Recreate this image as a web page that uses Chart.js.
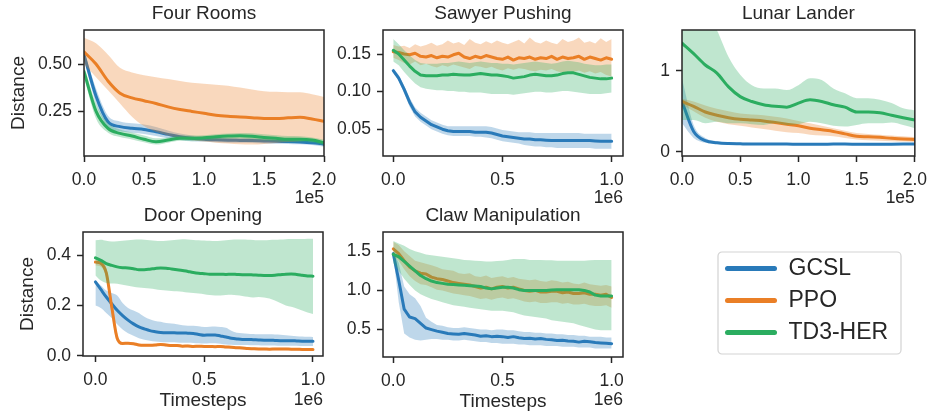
<!DOCTYPE html>
<html><head><meta charset="utf-8">
<script src="https://cdn.jsdelivr.net/npm/chart.js@4.4.0/dist/chart.umd.min.js"></script>
<style>
html,body{margin:0;padding:0;background:#fff;}
#wrap{position:relative;width:935px;height:411px;overflow:hidden;background:#fff;}
canvas{position:absolute;}
</style></head><body><div id="wrap">
<canvas id="c1" width="935" height="411" style="left:0;top:0"></canvas>
<canvas id="c2" width="935" height="411" style="left:0;top:0"></canvas>
<canvas id="c3" width="935" height="411" style="left:0;top:0"></canvas>
<canvas id="c4" width="935" height="411" style="left:0;top:0"></canvas>
<canvas id="c5" width="935" height="411" style="left:0;top:0"></canvas>
<canvas id="leg" width="190" height="150" style="left:716px;top:248px"></canvas>
</div>
<script>
// ---------------- data ----------------
const SERIES = ['GCSL', 'PPO', 'TD3-HER'];

// x grids (in units of the offset: 1e5 or 1e6)
const X21 = [0,0.1,0.2,0.3,0.4,0.5,0.6,0.7,0.8,0.9,1.0,1.1,1.2,1.3,1.4,1.5,1.6,1.7,1.8,1.9,2.0];
const X41 = [0,0.025,0.05,0.075,0.1,0.125,0.15,0.175,0.2,0.225,0.25,0.275,0.3,0.325,0.35,0.375,0.4,0.425,0.45,0.475,0.5,0.525,0.55,0.575,0.6,0.625,0.65,0.675,0.7,0.725,0.75,0.775,0.8,0.825,0.85,0.875,0.9,0.925,0.95,0.975,1.0];

// Four Rooms
const FR_GCSL    = [0.55,0.33,0.193,0.167,0.158,0.152,0.14,0.126,0.113,0.105,0.1,0.097,0.095,0.094,0.093,0.091,0.089,0.088,0.086,0.082,0.074];
const FR_GCSL_HI = [0.57,0.37,0.225,0.195,0.185,0.178,0.165,0.147,0.13,0.12,0.113,0.11,0.108,0.107,0.106,0.104,0.102,0.101,0.099,0.096,0.089];
const FR_GCSL_LO = [0.53,0.29,0.165,0.142,0.135,0.128,0.117,0.105,0.096,0.09,0.087,0.084,0.082,0.081,0.08,0.078,0.076,0.075,0.073,0.069,0.06];
const FR_PPO     = [0.565,0.50,0.41,0.345,0.32,0.305,0.29,0.272,0.258,0.248,0.238,0.228,0.222,0.218,0.215,0.211,0.21,0.214,0.217,0.208,0.195];
const FR_PPO_HI  = [0.64,0.61,0.55,0.48,0.455,0.44,0.43,0.42,0.41,0.40,0.395,0.39,0.385,0.375,0.365,0.355,0.352,0.35,0.35,0.34,0.325];
const FR_PPO_LO  = [0.50,0.43,0.36,0.29,0.22,0.17,0.14,0.12,0.105,0.095,0.088,0.082,0.077,0.073,0.072,0.075,0.08,0.085,0.09,0.093,0.095];
const FR_TD3     = [0.46,0.25,0.158,0.131,0.117,0.1,0.087,0.096,0.106,0.105,0.108,0.113,0.117,0.119,0.116,0.11,0.105,0.1,0.1,0.096,0.082];
const FR_TD3_HI  = [0.49,0.29,0.185,0.152,0.136,0.12,0.105,0.11,0.12,0.12,0.122,0.126,0.13,0.133,0.132,0.127,0.122,0.117,0.116,0.11,0.098];
const FR_TD3_LO  = [0.43,0.21,0.135,0.112,0.099,0.084,0.072,0.082,0.092,0.09,0.093,0.098,0.102,0.104,0.1,0.094,0.088,0.084,0.084,0.082,0.066];

// Sawyer Pushing
const SP_GCSL    = [0.128,0.118,0.103,0.086,0.073,0.066,0.061,0.056,0.053,0.050,0.048,0.047,0.047,0.047,0.047,0.046,0.046,0.046,0.045,0.043,0.041,0.040,0.039,0.038,0.037,0.037,0.036,0.036,0.0355,0.035,0.035,0.035,0.035,0.035,0.035,0.035,0.035,0.0345,0.034,0.034,0.034];
const SP_GCSL_HI = [0.131,0.122,0.108,0.092,0.079,0.072,0.067,0.062,0.059,0.056,0.054,0.054,0.054,0.054,0.054,0.054,0.054,0.054,0.053,0.051,0.049,0.048,0.047,0.046,0.046,0.046,0.045,0.045,0.045,0.045,0.045,0.045,0.045,0.045,0.045,0.044,0.044,0.044,0.044,0.044,0.044];
const SP_GCSL_LO = [0.125,0.114,0.098,0.080,0.067,0.060,0.055,0.050,0.047,0.044,0.042,0.041,0.041,0.041,0.041,0.040,0.040,0.039,0.038,0.036,0.034,0.033,0.032,0.031,0.029,0.028,0.027,0.027,0.026,0.026,0.025,0.025,0.025,0.025,0.025,0.025,0.025,0.024,0.024,0.024,0.024];
const SP_PPO     = [0.153,0.152,0.150,0.149,0.151,0.147,0.146,0.148,0.145,0.147,0.146,0.149,0.151,0.146,0.144,0.147,0.145,0.148,0.146,0.144,0.143,0.146,0.142,0.145,0.144,0.146,0.143,0.145,0.144,0.147,0.143,0.146,0.144,0.145,0.147,0.143,0.146,0.144,0.142,0.145,0.143];
const SP_PPO_HI  = [0.162,0.160,0.161,0.158,0.163,0.160,0.162,0.165,0.161,0.163,0.168,0.164,0.166,0.162,0.170,0.165,0.163,0.167,0.164,0.168,0.165,0.163,0.166,0.169,0.164,0.172,0.166,0.164,0.168,0.165,0.163,0.170,0.166,0.168,0.172,0.165,0.167,0.164,0.171,0.166,0.170];
const SP_PPO_LO  = [0.145,0.142,0.138,0.136,0.140,0.135,0.137,0.134,0.132,0.135,0.133,0.136,0.134,0.132,0.130,0.134,0.133,0.131,0.133,0.130,0.128,0.131,0.129,0.131,0.130,0.128,0.127,0.129,0.128,0.130,0.127,0.125,0.127,0.126,0.128,0.125,0.127,0.124,0.126,0.122,0.120];
const SP_TD3     = [0.155,0.150,0.142,0.134,0.127,0.122,0.121,0.121,0.121,0.122,0.122,0.123,0.1225,0.122,0.122,0.123,0.124,0.123,0.122,0.122,0.121,0.120,0.118,0.119,0.120,0.122,0.123,0.122,0.121,0.121,0.122,0.124,0.125,0.125,0.123,0.121,0.119,0.118,0.117,0.117,0.118];
const SP_TD3_HI  = [0.170,0.163,0.155,0.148,0.142,0.138,0.137,0.137,0.137,0.138,0.138,0.139,0.140,0.139,0.138,0.139,0.140,0.139,0.138,0.138,0.137,0.137,0.136,0.137,0.138,0.139,0.140,0.139,0.138,0.137,0.138,0.140,0.141,0.140,0.139,0.137,0.136,0.135,0.135,0.136,0.136];
const SP_TD3_LO  = [0.140,0.135,0.126,0.118,0.111,0.106,0.104,0.103,0.102,0.102,0.101,0.101,0.100,0.100,0.099,0.099,0.099,0.098,0.097,0.097,0.097,0.097,0.096,0.097,0.098,0.099,0.100,0.100,0.099,0.099,0.100,0.101,0.101,0.100,0.099,0.098,0.097,0.097,0.097,0.098,0.099];

// Lunar Lander
const LL_GCSL    = [0.62,0.25,0.136,0.11,0.10,0.097,0.095,0.095,0.094,0.094,0.093,0.093,0.093,0.094,0.094,0.093,0.092,0.092,0.093,0.094,0.095];
const LL_GCSL_HI = [0.9,0.33,0.17,0.13,0.115,0.11,0.108,0.107,0.106,0.106,0.105,0.105,0.105,0.106,0.106,0.105,0.104,0.104,0.105,0.106,0.107];
const LL_GCSL_LO = [0.35,0.17,0.11,0.095,0.088,0.086,0.084,0.084,0.083,0.083,0.082,0.082,0.082,0.083,0.083,0.082,0.081,0.081,0.082,0.083,0.084];
const LL_PPO     = [0.62,0.56,0.49,0.45,0.42,0.40,0.39,0.38,0.36,0.34,0.32,0.29,0.27,0.25,0.22,0.19,0.185,0.177,0.165,0.156,0.152];
const LL_PPO_HI  = [0.65,0.62,0.57,0.53,0.50,0.47,0.46,0.45,0.43,0.41,0.38,0.35,0.32,0.29,0.26,0.23,0.22,0.21,0.2,0.19,0.18];
const LL_PPO_LO  = [0.58,0.50,0.42,0.37,0.34,0.32,0.30,0.28,0.26,0.24,0.23,0.21,0.20,0.19,0.17,0.15,0.14,0.135,0.13,0.125,0.12];
const LL_TD3     = [1.34,1.21,1.07,0.97,0.80,0.68,0.62,0.58,0.56,0.55,0.60,0.64,0.62,0.58,0.55,0.49,0.49,0.48,0.45,0.42,0.39];
const LL_TD3_HI  = [1.9,1.85,1.75,1.5,1.17,0.95,0.82,0.78,0.78,0.76,0.82,0.905,0.885,0.78,0.72,0.66,0.66,0.64,0.60,0.535,0.51];
const LL_TD3_LO  = [0.39,0.39,0.35,0.37,0.35,0.35,0.34,0.33,0.35,0.33,0.34,0.37,0.35,0.32,0.31,0.33,0.35,0.35,0.36,0.33,0.29];

// Door Opening
const DO_GCSL    = [0.294,0.264,0.234,0.207,0.181,0.160,0.142,0.127,0.115,0.107,0.100,0.096,0.093,0.092,0.092,0.091,0.091,0.090,0.089,0.085,0.082,0.083,0.083,0.079,0.075,0.070,0.067,0.065,0.065,0.064,0.063,0.062,0.062,0.061,0.060,0.060,0.060,0.059,0.058,0.058,0.058];
const DO_GCSL_HI = [0.30,0.28,0.26,0.25,0.24,0.21,0.19,0.18,0.17,0.155,0.145,0.138,0.135,0.13,0.128,0.125,0.122,0.12,0.12,0.118,0.115,0.116,0.117,0.115,0.112,0.1,0.092,0.09,0.088,0.087,0.086,0.086,0.086,0.085,0.084,0.082,0.08,0.078,0.077,0.076,0.075];
const DO_GCSL_LO = [0.20,0.19,0.17,0.15,0.125,0.105,0.09,0.08,0.07,0.064,0.06,0.057,0.055,0.054,0.054,0.053,0.052,0.052,0.051,0.05,0.049,0.05,0.05,0.048,0.045,0.044,0.043,0.043,0.043,0.042,0.042,0.041,0.041,0.041,0.04,0.04,0.04,0.04,0.039,0.039,0.039];
const DO_PPO     = [0.373,0.368,0.33,0.195,0.07,0.049,0.05,0.048,0.043,0.042,0.042,0.043,0.045,0.043,0.041,0.041,0.038,0.039,0.037,0.038,0.037,0.037,0.036,0.037,0.035,0.034,0.032,0.031,0.029,0.028,0.027,0.027,0.026,0.027,0.027,0.027,0.026,0.026,0.025,0.025,0.025];
const DO_PPO_HI  = [0.385,0.38,0.35,0.225,0.09,0.055,0.055,0.053,0.048,0.047,0.047,0.048,0.05,0.048,0.046,0.046,0.043,0.044,0.042,0.043,0.042,0.042,0.041,0.042,0.04,0.039,0.037,0.036,0.034,0.033,0.032,0.032,0.031,0.032,0.032,0.032,0.031,0.031,0.03,0.03,0.03];
const DO_PPO_LO  = [0.36,0.355,0.31,0.165,0.055,0.044,0.045,0.043,0.038,0.037,0.037,0.038,0.04,0.038,0.036,0.036,0.033,0.034,0.032,0.033,0.032,0.032,0.031,0.032,0.03,0.029,0.027,0.026,0.024,0.023,0.022,0.022,0.021,0.022,0.022,0.022,0.021,0.021,0.02,0.02,0.02];
const DO_TD3     = [0.39,0.38,0.367,0.36,0.354,0.351,0.35,0.347,0.343,0.343,0.345,0.348,0.35,0.349,0.346,0.343,0.34,0.336,0.332,0.329,0.327,0.325,0.325,0.325,0.324,0.325,0.324,0.323,0.323,0.322,0.321,0.32,0.32,0.321,0.323,0.325,0.326,0.324,0.321,0.318,0.317];
const DO_TD3_HI  = [0.46,0.462,0.458,0.455,0.456,0.458,0.46,0.462,0.463,0.462,0.46,0.458,0.457,0.458,0.46,0.462,0.464,0.463,0.461,0.46,0.459,0.458,0.457,0.458,0.46,0.462,0.463,0.463,0.462,0.461,0.46,0.46,0.461,0.462,0.463,0.464,0.465,0.465,0.465,0.466,0.466];
const DO_TD3_LO  = [0.32,0.30,0.29,0.288,0.287,0.283,0.279,0.275,0.272,0.27,0.268,0.265,0.262,0.26,0.258,0.257,0.255,0.252,0.25,0.248,0.245,0.242,0.24,0.24,0.242,0.243,0.241,0.238,0.235,0.232,0.234,0.232,0.228,0.22,0.21,0.2,0.195,0.188,0.18,0.172,0.166];

// Claw Manipulation
const CM_GCSL    = [1.47,1.13,0.76,0.66,0.64,0.58,0.52,0.50,0.48,0.465,0.45,0.445,0.44,0.45,0.44,0.43,0.415,0.42,0.41,0.415,0.41,0.40,0.41,0.395,0.385,0.39,0.38,0.385,0.375,0.37,0.36,0.365,0.355,0.35,0.34,0.35,0.345,0.335,0.33,0.325,0.32];
const CM_GCSL_HI = [1.5,1.35,1.05,0.95,0.9,0.8,0.65,0.6,0.56,0.55,0.53,0.52,0.52,0.53,0.52,0.51,0.5,0.5,0.49,0.5,0.5,0.49,0.49,0.48,0.47,0.47,0.46,0.46,0.45,0.45,0.44,0.44,0.43,0.43,0.42,0.42,0.41,0.41,0.41,0.4,0.4];
const CM_GCSL_LO = [1.44,0.85,0.45,0.4,0.37,0.36,0.37,0.38,0.38,0.37,0.37,0.36,0.36,0.37,0.36,0.35,0.34,0.34,0.33,0.33,0.32,0.32,0.32,0.31,0.31,0.3,0.3,0.3,0.29,0.29,0.29,0.28,0.28,0.28,0.27,0.27,0.27,0.26,0.26,0.26,0.26];
const CM_PPO     = [1.53,1.47,1.38,1.30,1.25,1.22,1.21,1.17,1.15,1.14,1.12,1.10,1.09,1.08,1.07,1.05,1.03,1.04,1.02,1.04,1.05,1.03,1.04,1.02,1.00,0.99,1.00,0.98,0.98,0.99,0.99,0.97,0.98,0.96,0.96,0.97,0.95,0.95,0.94,0.95,0.91];
const CM_PPO_HI  = [1.62,1.58,1.50,1.44,1.38,1.36,1.34,1.32,1.30,1.27,1.26,1.25,1.22,1.21,1.22,1.18,1.17,1.19,1.16,1.17,1.18,1.16,1.17,1.15,1.14,1.13,1.14,1.12,1.11,1.13,1.12,1.10,1.11,1.09,1.08,1.10,1.08,1.07,1.06,1.07,1.05];
const CM_PPO_LO  = [1.45,1.38,1.27,1.18,1.12,1.08,1.07,1.04,1.01,1.00,0.98,0.96,0.95,0.94,0.93,0.91,0.89,0.90,0.88,0.90,0.91,0.89,0.90,0.88,0.86,0.85,0.86,0.84,0.84,0.85,0.85,0.83,0.84,0.82,0.82,0.83,0.81,0.80,0.80,0.81,0.78];
const CM_TD3     = [1.46,1.43,1.37,1.31,1.25,1.19,1.15,1.12,1.10,1.09,1.08,1.075,1.07,1.065,1.06,1.055,1.05,1.03,1.02,1.03,1.04,1.04,1.03,1.01,1.00,1.00,1.00,1.00,1.00,1.005,1.01,1.01,1.01,1.01,1.01,1.00,0.98,0.94,0.93,0.93,0.93];
const CM_TD3_HI  = [1.63,1.60,1.57,1.53,1.50,1.48,1.46,1.45,1.44,1.43,1.42,1.41,1.40,1.39,1.385,1.38,1.375,1.37,1.37,1.375,1.38,1.39,1.40,1.40,1.40,1.39,1.39,1.39,1.385,1.385,1.38,1.38,1.38,1.38,1.38,1.38,1.385,1.39,1.39,1.39,1.39];
const CM_TD3_LO  = [1.35,1.25,1.15,1.07,1.00,0.95,0.92,0.89,0.87,0.85,0.83,0.81,0.80,0.79,0.78,0.77,0.76,0.75,0.74,0.74,0.74,0.73,0.72,0.70,0.68,0.67,0.66,0.65,0.64,0.62,0.61,0.60,0.59,0.58,0.56,0.54,0.52,0.50,0.49,0.49,0.49];

// tick values
const XT_2E5 = [0, 0.5, 1.0, 1.5, 2.0];
const XT_1E6 = [0, 0.5, 1.0];
const YT_FR = [0.25, 0.50];
const YT_SP = [0.05, 0.10, 0.15];
const YT_LL = [0, 1];
const YT_DO = [0.0, 0.2, 0.4];
const YT_CM = [0.5, 1.0, 1.5];

// ---------------- style ----------------
const FONT = '"Liberation Sans", Arial, sans-serif';
const INK = '#262626';
const COLORS = ['#297ab9', '#ea7f26', '#2bad60'];
const BANDS = ['rgba(41,122,185,0.3)', 'rgba(234,127,38,0.3)', 'rgba(43,173,96,0.3)'];
Chart.defaults.font.family = FONT;
Chart.defaults.color = INK;

function seriesSets(xs, groups, smooth) {
  const out = [];
  const pts = a => xs.map((x, i) => ({x: x, y: a[i]}));
  groups.forEach((g, k) => {
    const base = (2 - k) * 3;
    const common = {pointRadius: 0, pointHoverRadius: 0,
      cubicInterpolationMode: smooth ? 'monotone' : 'default', tension: 0};
    out.push(Object.assign({label: SERIES[k] + ' hi', data: pts(g[1]), borderColor: 'rgba(0,0,0,0)',
      borderWidth: 1, fill: '+1', backgroundColor: BANDS[k], order: base + 2}, common));
    out.push(Object.assign({label: SERIES[k] + ' lo', data: pts(g[2]), borderColor: 'rgba(0,0,0,0)',
      borderWidth: 1, fill: false, order: base + 1}, common));
    out.push(Object.assign({label: SERIES[k], data: pts(g[0]), borderColor: COLORS[k],
      borderWidth: 3, fill: false, order: base, borderCapStyle: 'round', borderJoinStyle: 'round'}, common));
  });
  return out;
}

const framePlugin = {
  id: 'frame',
  afterDatasetsDraw(chart, args, opts) {
    const ctx = chart.ctx, a = chart.chartArea;
    ctx.save();
    ctx.strokeStyle = INK; ctx.lineWidth = 1.5;
    ctx.strokeRect(a.left, a.top, a.right - a.left, a.bottom - a.top);
    if (opts.text) {
      ctx.fillStyle = INK; ctx.font = '17.5px ' + FONT;
      ctx.textAlign = 'right'; ctx.textBaseline = 'middle';
      ctx.fillText(opts.text, a.right, a.bottom + opts.dy);
    }
    ctx.restore();
  }
};

const PLOTS = [
  {id: 'c1', title: 'Four Rooms', L: 84, T: 30, R: 324, B: 156, xmin: 0, xmax: 2.0, ymin: 0.011, ymax: 0.681,
   xt: XT_2E5, yt: YT_FR, ydec: 2, off: '1e5', offDy: 42, ylab: true, ylabPad: 7, xlab: false, yw: 84,
   xs: X21, smooth: true,
   g: [[FR_GCSL, FR_GCSL_HI, FR_GCSL_LO], [FR_PPO, FR_PPO_HI, FR_PPO_LO], [FR_TD3, FR_TD3_HI, FR_TD3_LO]]},
  {id: 'c2', title: 'Sawyer Pushing', L: 383, T: 30, R: 623, B: 156, xmin: -0.047, xmax: 1.052, ymin: 0.0144, ymax: 0.182,
   xt: XT_1E6, yt: YT_SP, ydec: 2, off: '1e6', offDy: 42, ylab: false, xlab: false, yw: 60,
   xs: X41, smooth: false,
   g: [[SP_GCSL, SP_GCSL_HI, SP_GCSL_LO], [SP_PPO, SP_PPO_HI, SP_PPO_LO], [SP_TD3, SP_TD3_HI, SP_TD3_LO]]},
  {id: 'c3', title: 'Lunar Lander', L: 682, T: 30, R: 921, B: 156, xmin: 0, xmax: 2.0, ymin: -0.053, ymax: 1.502,
   xt: XT_2E5, yt: YT_LL, ydec: 0, off: '1e5', offDy: 42, ylab: false, xlab: false, yw: 60,
   xs: X21, smooth: true,
   g: [[LL_GCSL, LL_GCSL_HI, LL_GCSL_LO], [LL_PPO, LL_PPO_HI, LL_PPO_LO], [LL_TD3, LL_TD3_HI, LL_TD3_LO]]},
  {id: 'c4', title: 'Door Opening', L: 83, T: 232, R: 323, B: 356, xmin: -0.057, xmax: 1.046, ymin: -0.001, ymax: 0.493,
   xt: XT_1E6, yt: YT_DO, ydec: 1, off: '1e6', offDy: 44, ylab: true, ylabPad: 16, xlab: true, yw: 83,
   xs: X41, smooth: true,
   g: [[DO_GCSL, DO_GCSL_HI, DO_GCSL_LO], [DO_PPO, DO_PPO_HI, DO_PPO_LO], [DO_TD3, DO_TD3_HI, DO_TD3_LO]]},
  {id: 'c5', title: 'Claw Manipulation', L: 383, T: 232, R: 623, B: 357, xmin: -0.047, xmax: 1.052, ymin: 0.15, ymax: 1.746,
   xt: XT_1E6, yt: YT_CM, ydec: 1, off: '1e6', offDy: 43, ylab: false, xlab: true, yw: 60,
   xs: X41, smooth: false,
   g: [[CM_GCSL, CM_GCSL_HI, CM_GCSL_LO], [CM_PPO, CM_PPO_HI, CM_PPO_LO], [CM_TD3, CM_TD3_HI, CM_TD3_LO]]}
];

const XH = 54, TITLE_PB = 5, TITLE_H = 19 * 1.2 + TITLE_PB;

PLOTS.forEach(p => {
  new Chart(document.getElementById(p.id), {
    type: 'line',
    data: {datasets: seriesSets(p.xs, p.g, p.smooth)},
    options: {
      responsive: false, animation: false, devicePixelRatio: 1,
      events: [],
      layout: {padding: {left: p.L - p.yw, right: 935 - p.R, top: p.T - TITLE_H, bottom: 411 - p.B - XH}},
      scales: {
        x: {type: 'linear', position: 'bottom', min: p.xmin, max: p.xmax,
          afterBuildTicks: s => { s.ticks = p.xt.map(v => ({value: v})); },
          afterFit: s => { s.height = XH; },
          ticks: {font: {size: 17.5}, color: INK, padding: 8, maxRotation: 0, autoSkip: false,
            callback: v => Number(v).toFixed(1)},
          grid: {display: true, drawOnChartArea: false, drawTicks: true, tickLength: 6, tickWidth: 1.5, tickColor: INK},
          border: {display: false},
          title: {display: p.xlab, text: 'Timesteps', color: INK, font: {size: 19, lineHeight: 1.0}, padding: 0}
        },
        y: {type: 'linear', position: 'left', min: p.ymin, max: p.ymax,
          afterBuildTicks: s => { s.ticks = p.yt.map(v => ({value: v})); },
          afterFit: s => { s.width = p.yw; },
          ticks: {font: {size: 17.5}, color: INK, padding: 6, autoSkip: false,
            callback: v => Number(v).toFixed(p.ydec)},
          grid: {display: true, drawOnChartArea: false, drawTicks: true, tickLength: 6, tickWidth: 1.5, tickColor: INK},
          border: {display: false},
          title: {display: !!p.ylab, text: 'Distance', color: INK, font: {size: 19, lineHeight: 1.2},
            padding: {top: p.ylabPad || 0, bottom: 0}}
        }
      },
      plugins: {
        legend: {display: false},
        tooltip: {enabled: false},
        title: {display: true, text: p.title, fullSize: false, color: INK,
          font: {size: 19, weight: 'normal', lineHeight: 1.2}, padding: {top: 0, bottom: TITLE_PB}},
        frame: {text: p.off, dy: p.offDy}
      }
    },
    plugins: [framePlugin]
  });
});

// ---------------- legend ----------------
const legendBoxPlugin = {
  id: 'legendBox',
  beforeDraw(chart) {
    const ctx = chart.ctx;
    const x = 2, y = 4, w = 183, h = 102, r = 4;
    ctx.save();
    ctx.fillStyle = '#ffffff';
    ctx.strokeStyle = '#d3d3d3';
    ctx.lineWidth = 1.2;
    ctx.beginPath();
    ctx.moveTo(x + r, y);
    ctx.lineTo(x + w - r, y); ctx.arcTo(x + w, y, x + w, y + r, r);
    ctx.lineTo(x + w, y + h - r); ctx.arcTo(x + w, y + h, x + w - r, y + h, r);
    ctx.lineTo(x + r, y + h); ctx.arcTo(x, y + h, x, y + h - r, r);
    ctx.lineTo(x, y + r); ctx.arcTo(x, y, x + r, y, r);
    ctx.closePath();
    ctx.fill(); ctx.stroke();
    ctx.restore();
  }
};

new Chart(document.getElementById('leg'), {
  type: 'line',
  data: {datasets: SERIES.map((s, i) => ({label: s, data: [], borderColor: COLORS[i], backgroundColor: COLORS[i]}))},
  options: {
    responsive: false, animation: false, devicePixelRatio: 1, events: [],
    layout: {padding: 0},
    scales: {x: {display: false}, y: {display: false}},
    plugins: {
      tooltip: {enabled: false},
      legend: {display: true, position: 'top', align: 'start', maxHeight: 140,
        labels: {boxWidth: 52, boxHeight: 5, padding: 9, color: INK, font: {size: 23},
          generateLabels: chart => chart.data.datasets.map((d, i) => ({
            text: d.label, fillStyle: d.borderColor, strokeStyle: d.borderColor, fontColor: INK,
            lineWidth: 0, borderRadius: 2.5, hidden: false, datasetIndex: i}))}}
    }
  },
  plugins: [legendBoxPlugin]
});
</script>
</body></html>
